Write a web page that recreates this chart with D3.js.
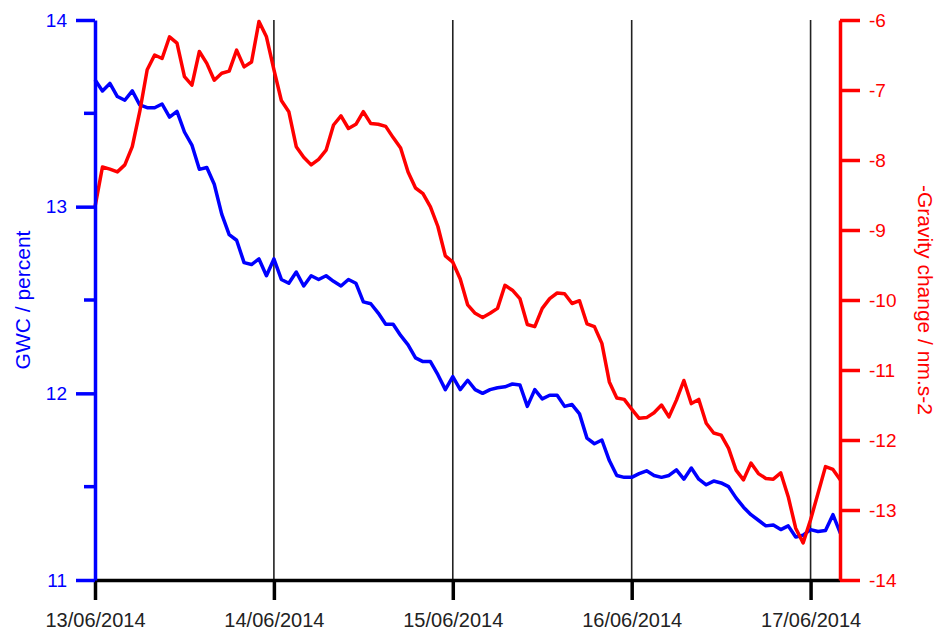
<!DOCTYPE html>
<html>
<head>
<meta charset="utf-8">
<script src="https://cdn.jsdelivr.net/npm/d3@7"></script>
<style>
  html, body { margin: 0; padding: 0; background: #fff; }
  svg { display: block; font-family: "Liberation Sans", Arial, sans-serif; }
</style>
</head>
<body>
<svg id="chart" width="936" height="630"></svg>
<script>
// Hourly samples starting 13/06/2014 00:00 (UTC)
const startTime = "2014-06-13T00:00:00Z";
const dayTicks = ["13/06/2014", "14/06/2014", "15/06/2014", "16/06/2014", "17/06/2014"];

const gwc = [
  13.68, 13.62, 13.66, 13.59, 13.57, 13.62, 13.545, 13.53, 13.53, 13.55,
  13.48, 13.51, 13.40, 13.33, 13.20, 13.21, 13.12, 12.96, 12.85, 12.82,
  12.70, 12.69, 12.72, 12.63, 12.72, 12.61, 12.59, 12.65, 12.575, 12.63,
  12.61, 12.63, 12.60, 12.575, 12.61, 12.59, 12.49, 12.48, 12.43, 12.37,
  12.37, 12.31, 12.26, 12.19, 12.17, 12.17, 12.10, 12.02, 12.09, 12.02,
  12.07, 12.02, 12.00, 12.02, 12.03, 12.035, 12.05, 12.045, 11.93, 12.02,
  11.97, 11.99, 11.99, 11.93, 11.94, 11.89, 11.76, 11.73, 11.75, 11.64,
  11.56, 11.55, 11.55, 11.57, 11.585, 11.56, 11.55, 11.56, 11.59, 11.54,
  11.60, 11.54, 11.51, 11.53, 11.52, 11.50, 11.44, 11.39, 11.35, 11.32,
  11.29, 11.295, 11.27, 11.29, 11.23, 11.24, 11.27, 11.26, 11.265, 11.35,
  11.25
];

const gravity = [
  -8.67, -8.10, -8.13, -8.17, -8.07, -7.81, -7.31, -6.71, -6.50, -6.55,
  -6.24, -6.33, -6.81, -6.93, -6.45, -6.62, -6.86, -6.76, -6.73, -6.43,
  -6.67, -6.60, -6.02, -6.24, -6.71, -7.15, -7.31, -7.81, -7.96, -8.07,
  -7.99, -7.86, -7.50, -7.37, -7.55, -7.49, -7.31, -7.48, -7.49, -7.52,
  -7.68, -7.83, -8.17, -8.40, -8.48, -8.67, -8.95, -9.37, -9.46, -9.70,
  -10.07, -10.19, -10.25, -10.19, -10.12, -9.79, -9.86, -9.98, -10.35, -10.38,
  -10.12, -9.98, -9.90, -9.91, -10.05, -10.01, -10.34, -10.38, -10.62, -11.17,
  -11.40, -11.42, -11.56, -11.69, -11.68, -11.61, -11.50, -11.67, -11.43, -11.15,
  -11.48, -11.42, -11.76, -11.90, -11.93, -12.12, -12.43, -12.57, -12.33, -12.48,
  -12.55, -12.56, -12.47, -12.81, -13.26, -13.47, -13.14, -12.76, -12.38, -12.42,
  -12.57
];

const gwcTicks = [11, 12, 13, 14];
const gwcMinorTicks = [11.5, 12.5, 13.5];
const gravTicks = [-14, -13, -12, -11, -10, -9, -8, -7, -6];

const BLUE = "#0000ff";
const RED = "#ff0000";
const FONT = "Liberation Sans, Arial, sans-serif";

const svg = d3.select("#chart");
const t0 = new Date(startTime);
const HOUR = 3600 * 1000;
const times = gwc.map((_, i) => new Date(t0.getTime() + i * HOUR));
const parseDay = d3.utcParse("%d/%m/%Y");
const dayDates = dayTicks.map(parseDay);

const pL = 95, pR = 840, pT = 20, pB = 580;

const x = d3.scaleUtc()
  .domain([dayDates[0], times[times.length - 1]])
  .range([pL, pR + 0.4]);
const yL = d3.scaleLinear().domain([11, 14]).range([pB, pT]);
const yR = d3.scaleLinear().domain([-14, -6]).range([pB, pT]);

// vertical day lines
svg.append("g").selectAll("line")
  .data(dayDates.slice(1))
  .join("line")
  .attr("x1", d => x(d)).attr("x2", d => x(d))
  .attr("y1", pT).attr("y2", pB)
  .attr("stroke", "#222").attr("stroke-width", 1.6);

// lines
const lineL = d3.line().x((d, i) => x(times[i])).y(d => yL(d));
const lineR = d3.line().x((d, i) => x(times[i])).y(d => yR(d));

svg.append("path").datum(gwc)
  .attr("d", lineL).attr("fill", "none")
  .attr("stroke", BLUE).attr("stroke-width", 3.5)
  .attr("stroke-linejoin", "round");

svg.append("path").datum(gravity)
  .attr("d", lineR).attr("fill", "none")
  .attr("stroke", RED).attr("stroke-width", 3.5)
  .attr("stroke-linejoin", "round");

// bottom axis
const xAxis = d3.axisBottom(x)
  .tickValues(dayDates)
  .tickFormat(d3.utcFormat("%d/%m/%Y"))
  .tickSize(20).tickSizeOuter(0).tickPadding(13);
const gx = svg.append("g").attr("transform", `translate(0,${pB})`).call(xAxis);
gx.select(".domain").attr("stroke", "#000").attr("stroke-width", 3.5)
  .attr("d", `M${pL},0.5H${pR}`);
gx.selectAll(".tick line").attr("stroke", "#000").attr("stroke-width", 3.5);
gx.selectAll(".tick text").attr("fill", "#222").attr("font-size", 20)
  .attr("font-family", FONT);

// left axis
const yAxisL = d3.axisLeft(yL).tickValues(gwcTicks).tickFormat(d3.format("d"))
  .tickSize(19).tickSizeOuter(0).tickPadding(9);
const gl = svg.append("g").attr("transform", `translate(${pL},0)`).call(yAxisL);
gl.select(".domain").attr("stroke", BLUE).attr("stroke-width", 3.5);
gl.selectAll(".tick line").attr("stroke", BLUE).attr("stroke-width", 3.5);
gl.selectAll(".tick text").attr("fill", BLUE).attr("font-size", 19)
  .attr("font-family", FONT);
gl.append("g").selectAll("line").data(gwcMinorTicks).join("line")
  .attr("x1", -11).attr("x2", 0)
  .attr("y1", d => yL(d)).attr("y2", d => yL(d))
  .attr("stroke", BLUE).attr("stroke-width", 3.5);

// right axis
const yAxisR = d3.axisRight(yR).tickValues(gravTicks).tickFormat(d3.format("d"))
  .tickSize(20).tickSizeOuter(0).tickPadding(9);
const gr = svg.append("g").attr("transform", `translate(${pR},0)`).call(yAxisR);
gr.select(".domain").attr("stroke", RED).attr("stroke-width", 3.5);
gr.selectAll(".tick line").attr("stroke", RED).attr("stroke-width", 3.5);
gr.selectAll(".tick text").attr("fill", RED).attr("font-size", 19)
  .attr("font-family", FONT)
  .text(d => "-" + Math.abs(d));

// axis titles
svg.append("text")
  .attr("transform", `translate(30,${(pT + pB) / 2}) rotate(-90)`)
  .attr("text-anchor", "middle").attr("fill", BLUE).attr("font-size", 21)
  .attr("font-family", FONT)
  .text("GWC / percent");

svg.append("text")
  .attr("transform", `translate(918,${(pT + pB) / 2}) rotate(90)`)
  .attr("text-anchor", "middle").attr("fill", RED).attr("font-size", 21)
  .attr("font-family", FONT)
  .text("-Gravity change / nm.s-2");
</script>
</body>
</html>
